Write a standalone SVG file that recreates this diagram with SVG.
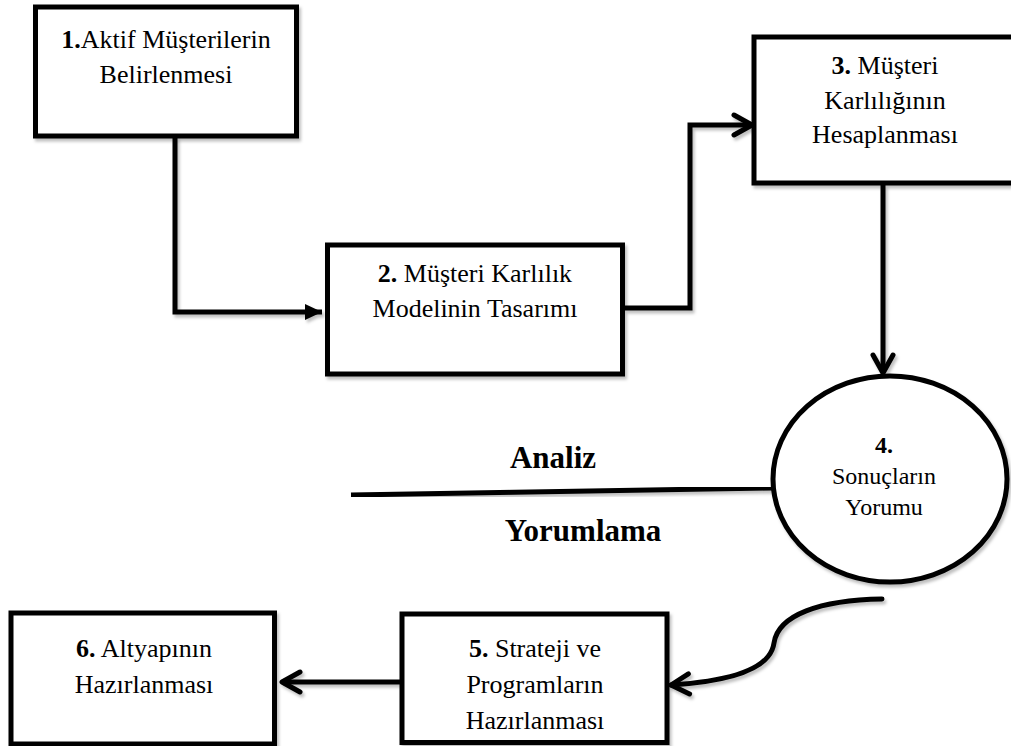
<svg xmlns="http://www.w3.org/2000/svg" width="1011" height="746" viewBox="0 0 1011 746">
<style>
.box{fill:#fff;stroke:#000;stroke-width:5}
.t{font-family:"Liberation Serif","Times New Roman",serif;font-size:26px;fill:#000;text-anchor:middle}
.s{font-size:24px}
.b{font-weight:bold}
.big{font-family:"Liberation Serif","Times New Roman",serif;font-size:31px;font-weight:bold;fill:#000;text-anchor:middle}
.c{fill:none;stroke:#000;stroke-width:5;stroke-linejoin:miter}
.sh{filter:url(#sh)}
</style>
<defs>
<filter id="sh" x="-10%" y="-10%" width="130%" height="130%">
<feDropShadow dx="2" dy="3" stdDeviation="1.5" flood-color="#000" flood-opacity="0.25"/>
</filter>
<marker id="open" markerUnits="userSpaceOnUse" viewBox="-22 -13 26 26" refX="0" refY="0" markerWidth="26" markerHeight="26" orient="auto">
<path d="M -18 -10 L 0 0 L -18 10" fill="none" stroke="#000" stroke-width="5" stroke-linecap="round" stroke-linejoin="round"/>
</marker>
<marker id="solid" markerUnits="userSpaceOnUse" viewBox="-18 -9 20 18" refX="0" refY="0" markerWidth="20" markerHeight="18" orient="auto">
<path d="M -17 -8 L 0 0 L -17 8 Z" fill="#000"/>
</marker>
</defs>
<rect width="1011" height="746" fill="#fff"/>
<g id="connectors" class="sh">
<path class="c" d="M 175 137 L 175 312 L 322 312" marker-end="url(#solid)"/>
<path class="c" d="M 625 308 L 690 308 L 690 125 L 752 125" marker-end="url(#open)"/>
<path class="c" d="M 883 185 L 883 373" marker-end="url(#open)"/>
<path class="c" d="M 882 599 C 820 600, 778 615, 774 643 C 770 672, 720 682, 671 685" stroke-linecap="round" marker-end="url(#open)"/>
<path class="c" d="M 410 682 L 282 682" marker-end="url(#open)"/>
</g>
<g id="divider" class="sh">
<path class="c" d="M 351 495 L 773 488"/>
</g>
<g id="node1">
<rect class="box sh" x="35.5" y="7" width="261" height="129"/>
<text class="t" x="166" y="48"><tspan class="b">1.</tspan>Aktif Müşterilerin</text>
<text class="t" x="166" y="83">Belirlenmesi</text>
</g>
<g id="node2">
<rect class="box sh" x="327.5" y="245" width="295" height="129"/>
<text class="t" x="475" y="282"><tspan class="b">2.</tspan> Müşteri Karlılık</text>
<text class="t" x="475" y="317">Modelinin Tasarımı</text>
</g>
<g id="node3">
<rect class="box sh" x="754" y="37" width="262" height="146"/>
<text class="t" x="885" y="74"><tspan class="b">3.</tspan> Müşteri</text>
<text class="t" x="885" y="109">Karlılığının</text>
<text class="t" x="885" y="143">Hesaplanması</text>
</g>
<g id="node4">
<ellipse class="box sh" cx="890" cy="479" rx="117" ry="103"/>
<text class="t s b" x="884" y="453">4.</text>
<text class="t s" x="884" y="484">Sonuçların</text>
<text class="t s" x="884" y="515">Yorumu</text>
</g>
<g id="labels">
<text class="big" x="553" y="468">Analiz</text>
<text class="big" x="583" y="541">Yorumlama</text>
</g>
<g id="node5">
<rect class="box sh" x="402" y="614" width="265" height="128.5"/>
<text class="t" x="535" y="657"><tspan class="b">5.</tspan> Strateji ve</text>
<text class="t" x="535" y="693">Programların</text>
<text class="t" x="535" y="729">Hazırlanması</text>
</g>
<g id="node6">
<rect class="box sh" x="11" y="613" width="263.5" height="131"/>
<text class="t" x="144" y="657"><tspan class="b">6.</tspan> Altyapının</text>
<text class="t" x="144" y="693">Hazırlanması</text>
</g>
</svg>
